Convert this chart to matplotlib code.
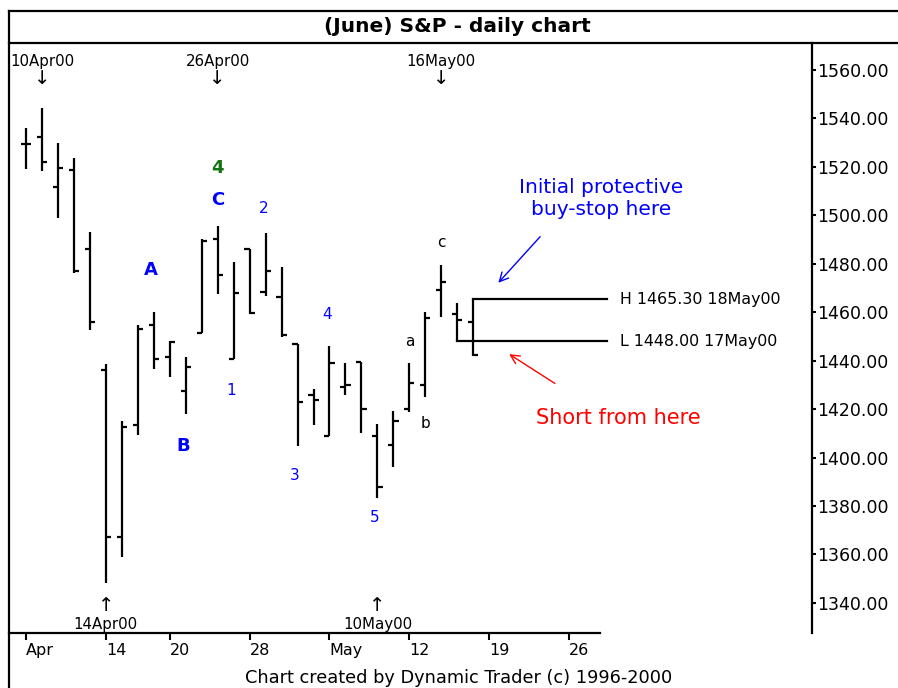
import numpy as np
import matplotlib
matplotlib.use('Agg')
import matplotlib.pyplot as plt
from matplotlib.lines import Line2D
from matplotlib import transforms

# trading days shown (index = x position)
dates = ['07Apr00', '10Apr00', '11Apr00', '12Apr00', '13Apr00', '14Apr00',
         '17Apr00', '18Apr00', '19Apr00', '20Apr00', '24Apr00', '25Apr00',
         '26Apr00', '27Apr00', '28Apr00', '01May00', '02May00', '03May00',
         '04May00', '05May00', '08May00', '09May00', '10May00', '11May00',
         '12May00', '15May00', '16May00', '17May00', '18May00']

opens = [1529.5, 1532.1, 1511.8, 1518.7, 1486.1, 1436.0, 1367.1, 1413.5,
         1454.7, 1441.4, 1427.5, 1451.3, 1490.1, 1440.6, 1486.0, 1468.5,
         1466.2, 1446.9, 1425.9, 1409.0, 1429.3, 1439.4, 1408.9, 1405.2,
         1419.9, 1430.0, 1469.2, 1459.2, 1456.1]
highs = [1535.9, 1544.4, 1529.7, 1523.5, 1493.3, 1438.5, 1415.1, 1454.7,
         1460.2, 1448.3, 1441.4, 1490.1, 1495.6, 1480.9, 1486.0, 1492.6,
         1478.6, 1446.9, 1428.3, 1446.2, 1439.2, 1439.6, 1413.7, 1419.3,
         1439.2, 1460.0, 1479.5, 1464.0, 1465.3]
lows = [1519.1, 1518.3, 1499.0, 1476.1, 1452.7, 1348.1, 1359.1, 1409.3,
        1436.6, 1433.4, 1418.0, 1451.3, 1467.4, 1440.6, 1459.3, 1466.7,
        1449.9, 1404.8, 1413.5, 1409.0, 1425.9, 1410.3, 1383.2, 1396.3,
        1419.0, 1424.9, 1458.2, 1448.0, 1441.9]
closes = [1529.5, 1521.9, 1519.7, 1476.8, 1456.1, 1367.1, 1412.8, 1453.0,
          1440.6, 1447.6, 1437.5, 1489.4, 1475.4, 1467.8, 1459.6, 1477.2,
          1450.6, 1422.8, 1423.8, 1439.2, 1430.0, 1419.9, 1388.0, 1415.1,
          1430.7, 1457.8, 1472.4, 1456.8, 1442.4]

# weekly axis ticks (trading-day index incl. future days) and labels
week_pos = [0, 5, 9, 14, 19, 24, 29, 34]
week_labels = ['Apr', '14', '20', '28', 'May', '12', '19', '26']
price_ticks = np.arange(1340, 1561, 20)

# wave count labels: (text, index, price, colour, bold)
wave_text = ['4', 'C', 'A', 'B', '1', '2', '3', '4', '5', 'a', 'b', 'c']
wave_x = [12, 12, 7.8, 9.85, 12.85, 14.9, 16.85, 18.85, 21.8, 24.05, 25.0, 26.0]
wave_y = [1519.5, 1506.3, 1477.4, 1404.8, 1427.5, 1502.6, 1392.8, 1458.9,
          1375.1, 1448.1, 1413.9, 1488.6]
wave_col = ['#137313', 'blue', 'blue', 'blue', 'blue', 'blue', 'blue', 'blue',
            'blue', 'black', 'black', 'black']
wave_bold = [True, True, True, True] + [False] * 8

# date markers
top_marks = [1, 12, 26]       # 10Apr00, 26Apr00, 16May00
bottom_marks = [5, 22]        # 14Apr00, 10May00

# last high / low
hi_idx, hi_val = 28, 1465.30
lo_idx, lo_val = 27, 1448.00

W, H = 898, 688
fig = plt.figure(figsize=(W / 100, H / 100), dpi=100)
fig.patch.set_facecolor('white')
ax = fig.add_axes([9 / W, 1 - 633 / H, (812 - 9) / W, (633 - 43) / H])

x = np.arange(len(dates))
tk = 0.32
lw = 1.6
for i in x:
    ax.plot([i, i], [lows[i], highs[i]], color='black', lw=lw, solid_capstyle='butt')
    ax.plot([i - tk, i], [opens[i], opens[i]], color='black', lw=lw, solid_capstyle='butt')
    ax.plot([i, i + tk], [closes[i], closes[i]], color='black', lw=lw, solid_capstyle='butt')

# high / low reference lines
line_end = 36.4
ax.plot([hi_idx, line_end], [hi_val, hi_val], color='black', lw=lw)
ax.plot([lo_idx, line_end], [lo_val, lo_val], color='black', lw=lw)
ax.text(37.2, hi_val, 'H %.2f %s' % (hi_val, dates[hi_idx]), fontsize=11.4, va='center')
ax.text(37.2, lo_val, 'L %.2f %s' % (lo_val, dates[lo_idx]), fontsize=11.4, va='center')

for t, xi, yi, c, b in zip(wave_text, wave_x, wave_y, wave_col, wave_bold):
    ax.text(xi, yi, t, color=c, ha='center', va='center',
            fontsize=13 if b else 11, fontweight='bold' if b else 'normal')

# annotations
ax.text(36.0, 1507.0, 'Initial protective\nbuy-stop here', color='blue',
        fontsize=14.5, ha='center', va='center', linespacing=1.2)
ax.annotate('', xy=(29.45, 1471.3), xytext=(32.3, 1492.0),
            arrowprops=dict(arrowstyle='->', color='blue', lw=1, mutation_scale=16))
ax.text(37.1, 1416.4, 'Short from here', color='red', fontsize=15,
        ha='center', va='center')
ax.annotate('', xy=(30.1, 1443.3), xytext=(33.25, 1430.0),
            arrowprops=dict(arrowstyle='->', color='red', lw=1, mutation_scale=16))

trans = transforms.blended_transform_factory(ax.transData, ax.transAxes)
for i in top_marks:
    ax.text(i, 0.969, dates[i], transform=trans, ha='center', va='center', fontsize=10.8)
    ax.text(i, 0.94, '\u2193', transform=trans, ha='center', va='center', fontsize=14)
for i in bottom_marks:
    ax.text(i, 0.046, '\u2191', transform=trans, ha='center', va='center', fontsize=14)
    ax.text(i, 0.015, dates[i], transform=trans, ha='center', va='center', fontsize=10.8)

ax.set_xlim(-1.06, 49.2)
ax.set_ylim(1327.6, 1571.1)

ax.set_xticks(week_pos)
ax.set_xticklabels(week_labels, fontsize=11.5)
for lbl in ax.get_xticklabels():
    lbl.set_horizontalalignment('left')
ax.tick_params(axis='x', direction='out', length=5, width=1.5, pad=2)

ax.yaxis.tick_right()
ax.set_yticks(price_ticks)
ax.set_yticklabels(['%.2f' % p for p in price_ticks], fontsize=12.5)
ax.tick_params(axis='y', direction='out', length=3, width=1.5, pad=1)

for s in ['top', 'left']:
    ax.spines[s].set_visible(False)
ax.spines['right'].set_linewidth(1.6)
ax.spines['bottom'].set_linewidth(1.6)
ax.spines['bottom'].set_bounds(-1.06, 35.95)

# outer frame and title bar
fig.add_artist(Line2D([9 / W, 1], [1 - 11 / H, 1 - 11 / H], color='black', lw=1.6))
fig.add_artist(Line2D([9 / W, 1], [1 - 43 / H, 1 - 43 / H], color='black', lw=1.6))
fig.add_artist(Line2D([9 / W, 9 / W], [0, 1 - 11 / H], color='black', lw=1.6))

fig.text(457 / W, 1 - 27 / H, '(June) S&P - daily chart', ha='center', va='center',
         fontsize=14.5, fontweight='bold')
fig.text(459 / W, 1 - 678 / H, 'Chart created by Dynamic Trader (c) 1996-2000',
         ha='center', va='center', fontsize=12.8)

fig.savefig('out.png', dpi=100)
